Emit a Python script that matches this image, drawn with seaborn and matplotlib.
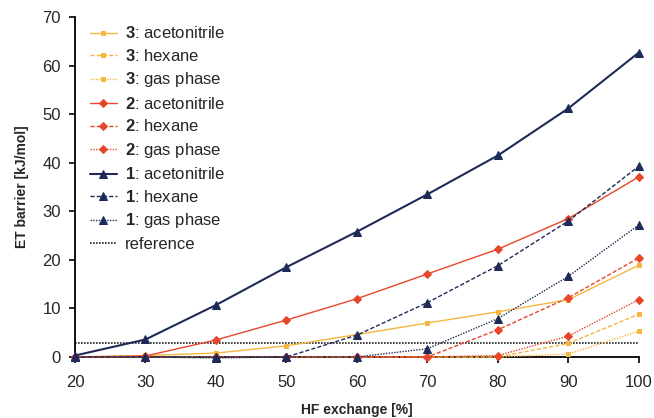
import pandas as pd
import seaborn as sns
import matplotlib.pyplot as plt

hf = [20, 30, 40, 50, 60, 70, 80, 90, 100]

c3_acn = [0.0, 0.3, 0.8, 2.3, 4.6, 7.0, 9.3, 11.8, 18.9]
c3_hex = [0.0, 0.0, 0.0, 0.0, 0.0, 0.0, 0.0, 2.8, 8.8]
c3_gas = [0.0, 0.0, 0.0, 0.0, 0.0, 0.0, 0.0, 0.6, 5.3]
c2_acn = [0.0, 0.2, 3.5, 7.6, 12.0, 17.1, 22.2, 28.5, 37.1]
c2_hex = [0.0, 0.0, 0.0, 0.0, 0.0, 0.0, 5.6, 12.2, 20.4]
c2_gas = [0.0, 0.0, 0.0, 0.0, 0.0, 0.0, 0.3, 4.3, 11.8]
c1_acn = [0.3, 3.6, 10.7, 18.5, 25.8, 33.5, 41.5, 51.2, 62.7]
c1_hex = [0.0, 0.0, 0.0, 0.0, 4.5, 11.2, 18.8, 28.0, 39.3]
c1_gas = [0.0, 0.0, -0.2, 0.0, 0.0, 1.7, 7.9, 16.6, 27.2]
reference = 2.9

series = [
    ('3', 'acetonitrile', c3_acn), ('3', 'hexane', c3_hex), ('3', 'gas phase', c3_gas),
    ('2', 'acetonitrile', c2_acn), ('2', 'hexane', c2_hex), ('2', 'gas phase', c2_gas),
    ('1', 'acetonitrile', c1_acn), ('1', 'hexane', c1_hex), ('1', 'gas phase', c1_gas),
]

colors = {'3': '#F4B63F', '2': '#E8462B', '1': '#1E2B58'}
markers = {'3': 's', '2': 'D', '1': '^'}
msize = {'3': 3.2, '2': 4, '1': 5.5}
dashes = {'acetonitrile': '-', 'hexane': (0, (3, 1.5)), 'gas phase': (0, (1, 1))}

sns.set_style('ticks')
plt.rcParams['font.family'] = ['Liberation Sans', 'DejaVu Sans']
plt.rcParams['mathtext.fontset'] = 'custom'
plt.rcParams['mathtext.rm'] = 'Liberation Sans'
plt.rcParams['mathtext.bf'] = 'Liberation Sans:bold'

fig = plt.figure(figsize=(6.54, 4.18), dpi=100)
ax = fig.add_axes([0.1147, 0.146, 0.862, 0.813])

for cmp, solv, vals in series:
    df = pd.DataFrame({'hf': hf, 'e': vals})
    sns.lineplot(data=df, x='hf', y='e', ax=ax, color=colors[cmp],
                 linestyle=dashes[solv], marker=markers[cmp], markersize=msize[cmp],
                 markeredgecolor=colors[cmp], linewidth=1.5 if cmp == '1' and solv == 'acetonitrile' else 1.0,
                 label=r'$\bf{' + cmp + '}$: ' + solv, clip_on=False, zorder=3)

ref_df = pd.DataFrame({'hf': [hf[0], hf[-1]], 'e': [reference, reference]})
sns.lineplot(data=ref_df, x='hf', y='e', ax=ax, color='#222222', linestyle=(0, (1, 0.8)),
             linewidth=1.2, label='reference')

ax.set_xlim(20, 100)
ax.set_ylim(0, 70)
ax.set_xticks(range(20, 101, 10))
ax.set_yticks(range(0, 71, 10))
ax.tick_params(labelsize=12, direction='out', length=4, width=1.2, color='black')
ax.tick_params(axis='x', pad=9)
ax.tick_params(axis='y', pad=6)
for s in ['left', 'bottom']:
    ax.spines[s].set_linewidth(1.3)
    ax.spines[s].set_color('black')
sns.despine(ax=ax)
ax.set_xlabel('HF exchange [%]', fontsize=10, fontweight='bold', labelpad=9)
ax.set_ylabel('ET barrier [kJ/mol]', fontsize=10, fontweight='bold', labelpad=10)

leg = ax.legend(loc='upper left', bbox_to_anchor=(0.012, 1.0), frameon=False,
                fontsize=12, handlelength=1.6, handletextpad=0.5,
                labelspacing=0.39, borderaxespad=0.1)

fig.savefig('out.png', dpi=100)
